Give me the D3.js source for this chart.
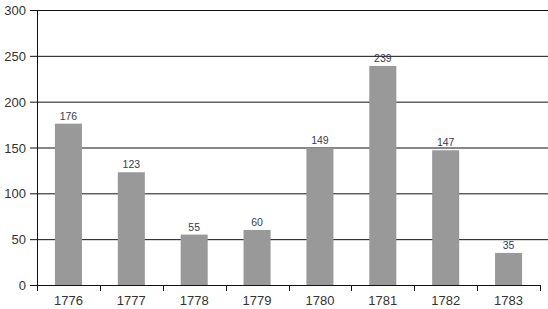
<!DOCTYPE html>
<html>
<head>
<meta charset="utf-8">
<script src="https://cdn.jsdelivr.net/npm/d3@7"></script>
<style>
  body { margin: 0; background: #fff; }
  text { font-family: "Liberation Sans", Arial, sans-serif; }
</style>
</head>
<body>
<script>
// chart data
const years = ["1776","1777","1778","1779","1780","1781","1782","1783"];
const counts = [176, 123, 55, 60, 149, 239, 147, 35];
const yTicks = [0, 50, 100, 150, 200, 250, 300];

const width = 548, height = 309;
const svg = d3.select("body").append("svg").attr("width", width).attr("height", height);

const x = d3.scaleBand().domain(years).range([37, 540]).paddingInner(0.57).paddingOuter(0.285);
const y = d3.scaleLinear().domain([0, 300]).range([285, 10]);

// gridlines
svg.append("g").selectAll("line").data(yTicks.slice(1))
  .enter().append("line")
  .attr("x1", 30).attr("x2", width)
  .attr("y1", d => y(d) + 0.5).attr("y2", d => y(d) + 0.5)
  .attr("stroke", "#111").attr("stroke-width", 1);

// y tick labels + left ticks for the baseline
svg.append("g").selectAll("text").data(yTicks)
  .enter().append("text")
  .attr("x", 26).attr("y", d => y(d) + 5)
  .attr("text-anchor", "end")
  .attr("font-size", 13).attr("fill", "#333")
  .text(d => d);

// bars
svg.append("g").selectAll("rect").data(counts)
  .enter().append("rect")
  .attr("x", (d, i) => x(years[i]))
  .attr("width", x.bandwidth())
  .attr("y", d => y(d))
  .attr("height", d => y(0) - y(d))
  .attr("fill", "#999");

// value labels
svg.append("g").selectAll("text").data(counts)
  .enter().append("text")
  .attr("x", (d, i) => x(years[i]) + x.bandwidth() / 2)
  .attr("y", d => y(d) - 4)
  .attr("text-anchor", "middle")
  .attr("font-size", 10.5).attr("fill", "#3a3a55")
  .text(d => d);

// axes lines
svg.append("line").attr("x1", 37.5).attr("x2", 37.5).attr("y1", 10).attr("y2", 291)
  .attr("stroke", "#111");
svg.append("line").attr("x1", 30).attr("x2", 540.5).attr("y1", 285.5).attr("y2", 285.5)
  .attr("stroke", "#111");

// x ticks at band boundaries
const step = x.step();
svg.append("g").selectAll("line").data(d3.range(years.length + 1))
  .enter().append("line")
  .attr("x1", i => Math.round(37 + i * (503 / years.length)) + 0.5)
  .attr("x2", i => Math.round(37 + i * (503 / years.length)) + 0.5)
  .attr("y1", 285).attr("y2", 291)
  .attr("stroke", "#111");

// x labels
svg.append("g").selectAll("text").data(years)
  .enter().append("text")
  .attr("x", d => x(d) + x.bandwidth() / 2)
  .attr("y", 305)
  .attr("text-anchor", "middle")
  .attr("font-size", 13).attr("fill", "#333")
  .text(d => d);
</script>
</body>
</html>
